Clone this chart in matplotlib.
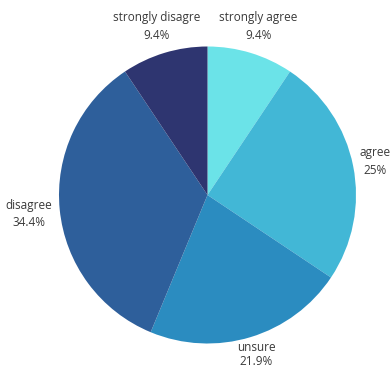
import numpy as np
import matplotlib.pyplot as plt

labels = ["strongly agree", "agree", "unsure", "disagree", "strongly disagre"]
counts = [3, 8, 7, 11, 3]
colors = ["#6be3e8", "#42b7d6", "#2b8cc0", "#2e5f9b", "#2e3570"]

# label placement: distance from centre (pie radii), angle override, spacing
label_radius = [1.185, 1.15, 1.125, 1.21, 1.187]
label_angle = [None, None, None, 186.0, None]
label_spacing = [1.45, 1.45, 1.1, 1.45, 1.45]

W, H = 391, 369
fig = plt.figure(figsize=(W / 100, H / 100), dpi=100)
cx, cy, r = 207.5, 369 - 195, 148.5
ax = fig.add_axes([(cx - r) / W, (cy - r) / H, 2 * r / W, 2 * r / H])

wedges, _ = ax.pie(counts, colors=colors, startangle=90, counterclock=False,
                   radius=1, wedgeprops=dict(linewidth=0))

# pie() pads the limits, pin them back to the unit circle
ax.set_xlim(-1, 1)
ax.set_ylim(-1, 1)
ax.set_aspect("equal")
ax.axis("off")

total = sum(counts)
for w, name, c, rr, ang, ls in zip(wedges, labels, counts, label_radius,
                                    label_angle, label_spacing):
    pct = 100 * c / total
    txt = f"{pct:.1f}%".replace(".0%", "%")
    a = (w.theta1 + w.theta2) / 2 if ang is None else ang
    x = rr * np.cos(np.radians(a))
    y = rr * np.sin(np.radians(a))
    ax.text(x, y, f"{name}\n{txt}", ha="center", va="center",
            fontsize=8.5, family="Open Sans", color="#3a3a3a",
            linespacing=ls, clip_on=False)

fig.savefig("out.png", dpi=100)
